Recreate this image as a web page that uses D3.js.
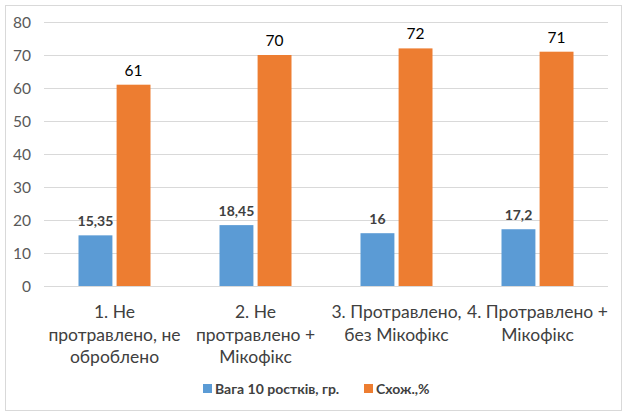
<!DOCTYPE html>
<html lang="uk">
<head>
<meta charset="UTF-8">
<script src="https://d3js.org/d3.v7.min.js"></script>
<style>
    body { margin: 0; background: #fff; }
    text { font-family: Lato, "Open Sans", sans-serif; }
    .grid line { stroke: #d9d9d9; stroke-width: 1px; }
    .y-axis text { fill: #595959; font-size: 15.5px; font-family: Lato, sans-serif; }
    .cat text { fill: #404040; font-size: 17.5px; }
</style>
</head>
<body>
<svg id="chart" width="628" height="415"></svg>
<script>
    var categories = [
        ["1. Не", "протравлено, не", "оброблено"],
        ["2. Не", "протравлено +", "Мікофікс"],
        ["3. Протравлено,", "без Мікофікс"],
        ["4. Протравлено +", "Мікофікс"]
    ];
    var seriesNames = ["Вага 10 ростків, гр.", "Схож.,%"];
    var weight = [15.35, 18.45, 16, 17.2];
    var germ = [61, 70, 72, 71];
    var weightLabels = ["15,35", "18,45", "16", "17,2"];
    var yTicks = [0, 10, 20, 30, 40, 50, 60, 70, 80];
    var colors = ["#5B9BD5", "#ED7D31"];

    var svg = d3.select("#chart");
    svg.append("rect")
        .attr("x", 5.5).attr("y", 5.5).attr("width", 616).attr("height", 405)
        .attr("fill", "#fff").attr("stroke", "#d9d9d9");

    var mLeft = 44, mRight = 608, mTop = 22, mBottom = 286;
    var x = d3.scaleBand().domain(d3.range(categories.length)).range([mLeft, mRight]);
    var y = d3.scaleLinear().domain([0, 80]).range([mBottom, mTop]);
    var inner = d3.scaleBand().domain([0, 1]).range([0, 72]).paddingInner(0.11);

    svg.append("g").attr("class", "grid")
        .selectAll("line").data(yTicks).enter().append("line")
        .attr("x1", mLeft).attr("x2", mRight)
        .attr("y1", d => Math.round(y(d)) + 0.5).attr("y2", d => Math.round(y(d)) + 0.5);

    var yAxis = svg.append("g").attr("class", "y-axis")
        .attr("transform", "translate(" + (mLeft - 13) + ",0)")
        .call(d3.axisLeft(y).tickValues(yTicks).tickSize(0).tickPadding(0));
    yAxis.select(".domain").remove();
    yAxis.selectAll("text").attr("dy", "0.35em");

    var groups = svg.append("g").selectAll("g").data(categories).enter().append("g")
        .attr("transform", (d, i) => "translate(" + (x(i) + x.bandwidth() / 2 - 36) + ",0)");

    var series = [weight, germ];
    series.forEach(function (vals, s) {
        groups.append("rect")
            .attr("x", inner(s))
            .attr("width", inner.bandwidth())
            .attr("y", (d, i) => y(vals[i]))
            .attr("height", (d, i) => y(0) - y(vals[i]))
            .attr("fill", colors[s]);
    });

    groups.append("text")
        .attr("x", inner(0) + inner.bandwidth() / 2)
        .attr("y", (d, i) => y(weight[i]) - 9)
        .attr("text-anchor", "middle")
        .attr("font-size", 14).attr("font-weight", "bold").attr("fill", "#404040")
        .text((d, i) => weightLabels[i]);

    groups.append("text")
        .attr("x", inner(1) + inner.bandwidth() / 2)
        .attr("y", (d, i) => y(germ[i]) - 9)
        .attr("text-anchor", "middle")
        .attr("font-size", 15.5).attr("fill", "#000")
        .text((d, i) => germ[i]);

    var cat = svg.append("g").attr("class", "cat");
    categories.forEach(function (lines, i) {
        var t = cat.append("text").attr("text-anchor", "middle")
            .attr("x", x(i) + x.bandwidth() / 2).attr("y", 318);
        lines.forEach(function (ln, k) {
            t.append("tspan").attr("x", x(i) + x.bandwidth() / 2)
                .attr("dy", k === 0 ? 0 : 22.5).text(ln);
        });
    });

    var legend = svg.append("g");
    var legX = [203, 364];
    seriesNames.forEach(function (name, s) {
        legend.append("rect").attr("x", legX[s]).attr("y", 384)
            .attr("width", 9).attr("height", 9).attr("fill", colors[s]);
        legend.append("text").attr("x", legX[s] + 12).attr("y", 393.5)
            .attr("font-size", 14).attr("font-weight", "bold").attr("fill", "#404040")
            .text(name);
    });
</script>
</body>
</html>
